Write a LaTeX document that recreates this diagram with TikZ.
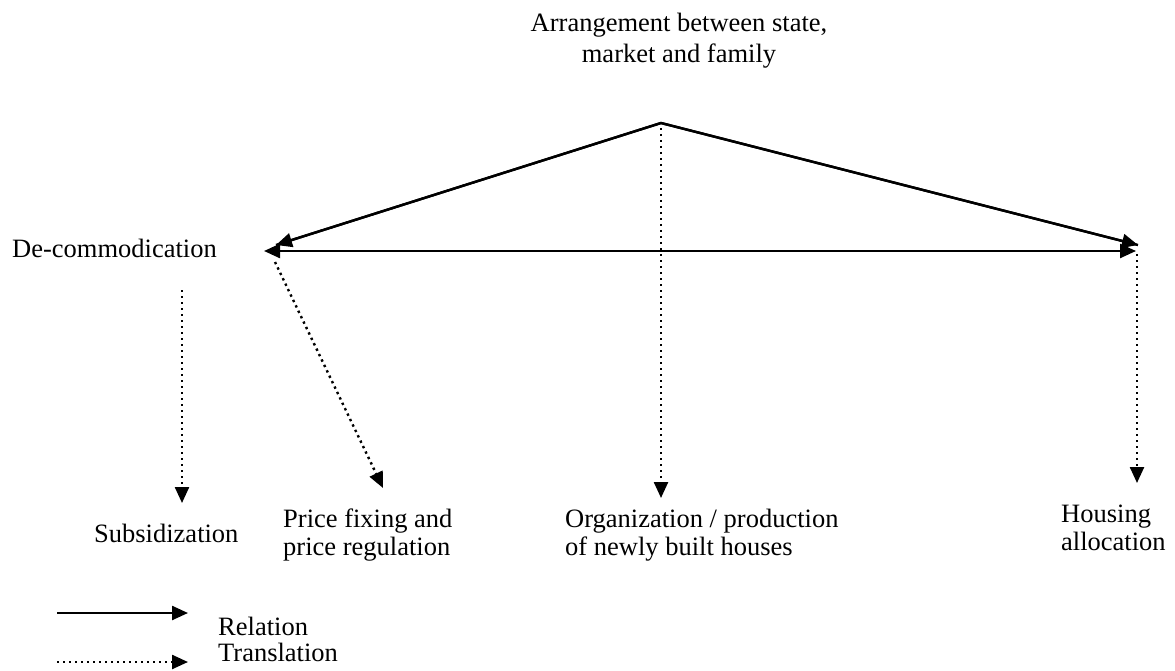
\documentclass[tikz,border=0pt]{standalone}
\usepackage{fontspec}
\setmainfont{Liberation Serif}
\usetikzlibrary{arrows.meta}
\tikzset{
  tip/.style={-{Triangle[length=16pt,width=14pt]}},
  rel/.style={line width=2.4pt,tip},
  trans/.style={line width=2.4pt,dash pattern=on 2.4pt off 3.6pt,tip},
  lbl/.style={inner sep=0pt,font=\fontsize{26.5}{28}\selectfont},
}
\begin{document}
\begin{tikzpicture}[x=1pt,y=-1pt]
\useasboundingbox (0,0) rectangle (1175,671);
% coordinates
\coordinate (apex) at (661,123);
\coordinate (lt) at (264,251);
\coordinate (ltd) at (276,245);
\coordinate (rt) at (1136,251);
\coordinate (rtd) at (1138,245);
\coordinate (rs) at (1137,254);
\coordinate (re) at (1137,483);
\coordinate (as) at (661,128);
\coordinate (ae) at (661,498);
\coordinate (ss) at (182,290);
\coordinate (se) at (182,503);
\coordinate (ps) at (275,262);
\coordinate (pe) at (383,488);
\coordinate (l1s) at (57,613);
\coordinate (l1e) at (188,613);
\coordinate (l2s) at (57,662);
\coordinate (l2e) at (188,662);
% texts
\node[lbl,font=\fontsize{26.5}{31}\selectfont,anchor=base,align=center] (title) at (679,63) {Arrangement between state,\\market and family};
\node[lbl,anchor=base west] (decom) at (12,257) {De-commodication};
\node[lbl,anchor=base west] (subs) at (94,542) {Subsidization};
\node[lbl,anchor=base west,align=left] (price) at (283,555) {Price fixing and\\price regulation};
\node[lbl,anchor=base west,align=left] (org) at (565,555) {Organization / production\\of newly built houses};
\node[lbl,anchor=base west,align=left] (hous) at (1061,550) {Housing\\allocation};
\node[lbl,anchor=base west] (relt) at (218,635) {Relation};
\node[lbl,anchor=base west] (trat) at (218,661) {Translation};
% connectors
\draw[line width=2.4pt,line join=miter] (ltd) -- (apex) -- (rtd);
\draw[rel] (apex) -- (ltd);
\draw[rel] (apex) -- (rtd);
\draw[line width=2.4pt,{Triangle[length=16pt,width=14pt]}-{Triangle[length=16pt,width=14pt]}] (lt) -- (rt);
\draw[trans] (as) -- (ae);
\draw[trans] (rs) -- (re);
\draw[trans] (ss) -- (se);
\draw[trans] (ps) -- (pe);
\draw[rel] (l1s) -- (l1e);
\draw[trans] (l2s) -- (l2e);
\end{tikzpicture}
\end{document}
